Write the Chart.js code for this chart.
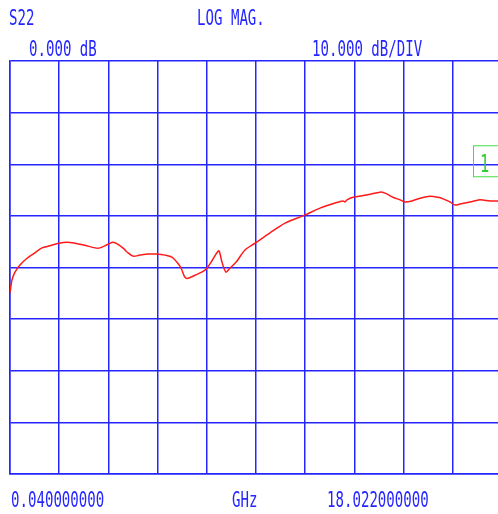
<!DOCTYPE html>
<html>
<head>
<meta charset="utf-8">
<script src="https://cdn.jsdelivr.net/npm/chart.js@4.4.1/dist/chart.umd.min.js"></script>
<style>
  html, body { margin: 0; padding: 0; background: #fff; overflow: hidden; }
  #wrap { width: 510px; height: 514px; }
</style>
</head>
<body>
<div id="wrap"><canvas id="chartS22" width="510" height="514"></canvas></div>
<script>
// trace: frequency (GHz) vs S22 (dB)
const freqGHz = [0.040, 0.113, 0.223, 0.405, 0.661, 0.881, 1.210, 1.502, 1.831, 2.123,
  2.416, 2.781, 3.147, 3.329, 3.622, 3.805, 3.987, 4.207, 4.316, 4.536,
  4.791, 5.084, 5.413, 5.705, 5.961, 6.144, 6.290, 6.436, 6.546, 6.802,
  7.167, 7.350, 7.569, 7.679, 7.789, 7.935, 8.081, 8.300, 8.629, 8.995,
  9.543, 10.091, 10.786, 11.370, 11.918, 12.211, 12.284, 12.357, 12.576, 13.015,
  13.198, 13.563, 13.746, 14.038, 14.294, 14.477, 14.733, 15.025, 15.391, 15.683,
  15.866, 16.122, 16.305, 16.487, 16.853, 17.218, 17.584, 18.022];
const s22dB = [-24.9, -22.4, -20.9, -19.5, -18.2, -17.4, -16.2, -15.8, -15.3, -15.1,
  -15.3, -15.7, -16.2, -16.2, -15.5, -15.1, -15.5, -16.4, -17.0, -17.8,
  -17.6, -17.4, -17.4, -17.6, -18.0, -19.0, -20.1, -21.9, -22.1, -21.5,
  -20.5, -19.3, -17.4, -16.8, -19.0, -20.9, -20.1, -19.0, -16.6, -15.3,
  -13.3, -11.4, -9.9, -8.5, -7.5, -7.1, -7.3, -6.9, -6.4, -6.0,
  -5.8, -5.4, -5.6, -6.4, -6.9, -7.3, -7.1, -6.6, -6.2, -6.4,
  -6.7, -7.3, -7.9, -7.7, -7.3, -6.9, -7.1, -7.1];

const startGHz = 0.04;
const stopGHz = 18.022;
const refDB = 0;        // reference line value
const scaleDB = 10;     // dB per division
const yMin = -60;
const yMax = 20;

const headerTexts = ['S22', 'LOG MAG.', '0.000 dB', '10.000 dB/DIV'];
const footerTexts = ['0.040000000', 'GHz', '18.022000000'];
const markerText = '1';

const blue = '#2525ff';

// draws the analyzer annotations round the grid
const annotations = {
  id: 'annotations',
  afterDraw(chart) {
    const ctx = chart.ctx;
    const sx = 0.64;
    const put = (txt, x, y) => {
      ctx.save();
      ctx.translate(x, y);
      ctx.scale(sx, 1);
      ctx.fillText(txt, 0, 0);
      ctx.restore();
    };
    ctx.save();
    ctx.font = '22px "DejaVu Sans Mono"';
    ctx.fillStyle = blue;
    ctx.textBaseline = 'alphabetic';
    put(headerTexts[0], 9, 25);
    put(headerTexts[1], 197, 25);
    put(headerTexts[2], 29, 56);
    put(headerTexts[3], 312, 56);
    put(footerTexts[0], 11, 507);
    put(footerTexts[1], 232, 507);
    put(footerTexts[2], 327, 507);

    // reference line marker box
    const yRef = chart.scales.y.getPixelForValue(refDB);
    ctx.strokeStyle = '#44dd44';
    ctx.lineWidth = 1;
    ctx.strokeRect(473.5, yRef - 18.5, 40, 31);
    ctx.fillStyle = '#33cc33';
    ctx.font = '24px "DejaVu Sans Mono"';
    put(markerText, 480, yRef + 8);
    ctx.restore();
  }
};

const data = {
  datasets: [{
    label: 'S22',
    data: freqGHz.map((f, i) => ({ x: f, y: s22dB[i] })),
    borderColor: '#ff1a1a',
    borderWidth: 1.5,
    pointRadius: 0,
    tension: 0.3,
    fill: false
  }]
};

const config = {
  type: 'line',
  data: data,
  options: {
    responsive: false,
    animation: false,
    layout: { padding: { left: 10, top: 61, right: 8, bottom: 40 } },
    plugins: { legend: { display: false }, tooltip: { enabled: false } },
    scales: {
      x: {
        type: 'linear',
        min: startGHz,
        max: stopGHz,
        afterBuildTicks: (axis) => {
          const t = [];
          for (let i = 0; i <= 10; i++) t.push({ value: startGHz + i * (stopGHz - startGHz) / 10 });
          axis.ticks = t;
        },
        ticks: { display: false },
        grid: { color: blue, lineWidth: 1.5, drawTicks: false },
        border: { color: blue, width: 1.5 }
      },
      y: {
        min: yMin,
        max: yMax,
        ticks: { display: false, stepSize: scaleDB },
        grid: { color: blue, lineWidth: 1.5, drawTicks: false },
        border: { color: blue, width: 1.5 }
      }
    }
  },
  plugins: [annotations]
};

const myChart = new Chart(document.getElementById('chartS22'), config);
</script>
</body>
</html>
